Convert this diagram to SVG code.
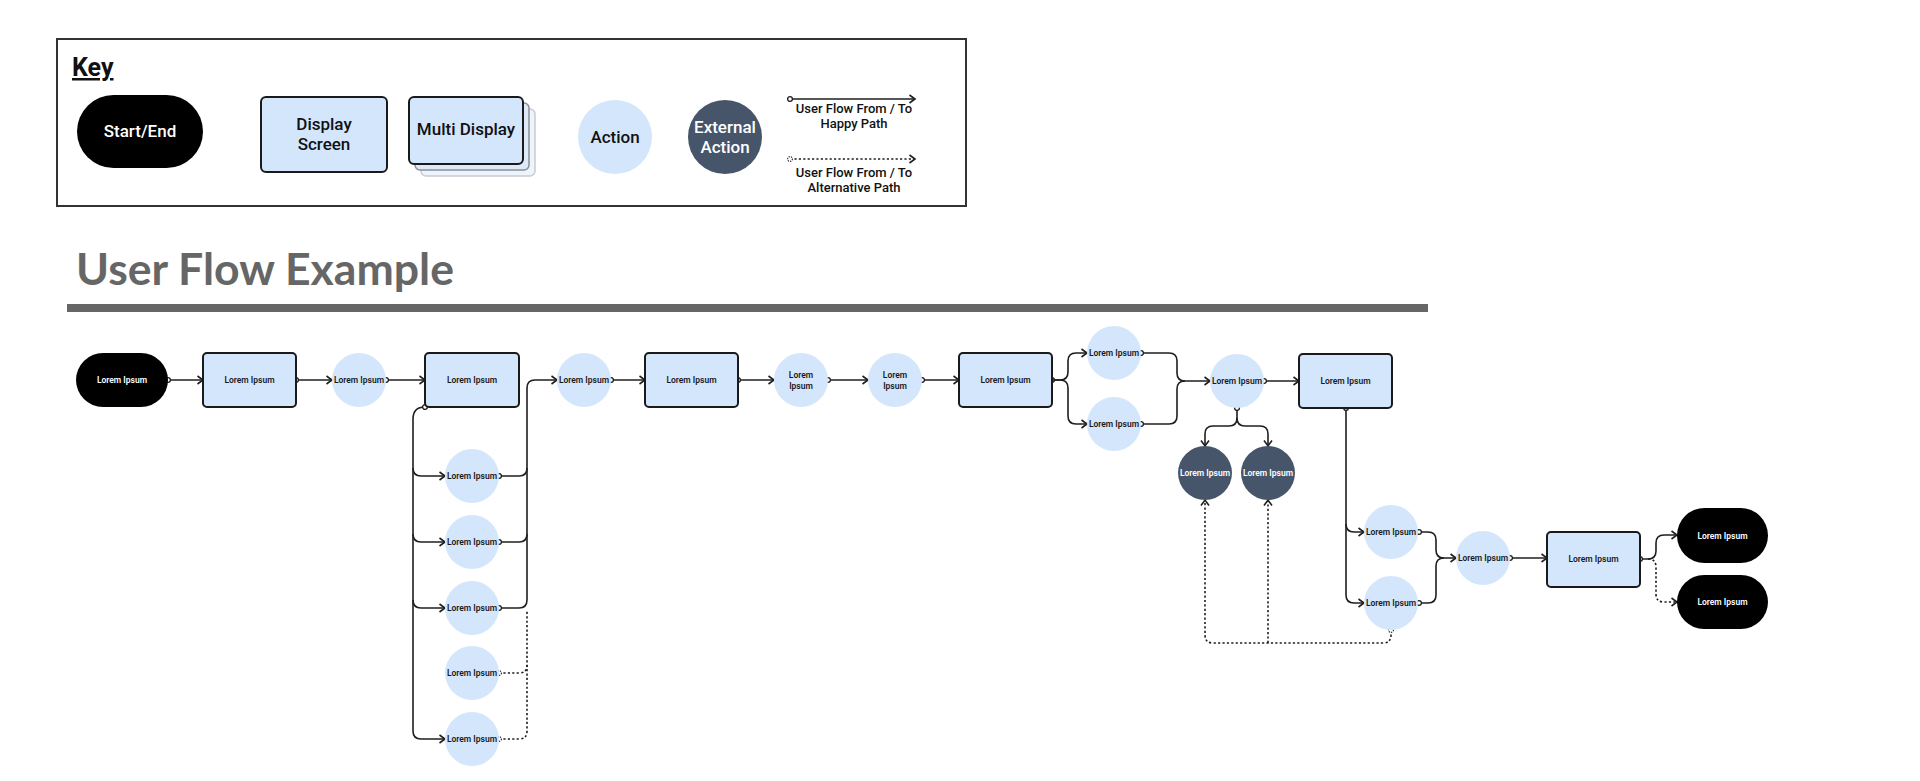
<svg xmlns="http://www.w3.org/2000/svg" width="1920" height="781" viewBox="0 0 1920 781">
<defs>
<style>
.bg{fill:#ffffff}
.keybox{fill:none;stroke:#333333;stroke-width:2}
.pill{fill:#000000}
.scr{fill:#d4e6fc;stroke:#1a1a1a;stroke-width:2}
.act{fill:#d4e6fc}
.ext{fill:#465569}
.lbl{font-family:Roboto,"Liberation Sans",sans-serif;font-size:8.5px;font-weight:600;fill:#1a1a1a;text-anchor:middle}
.lblw{font-family:Roboto,"Liberation Sans",sans-serif;font-size:8.5px;font-weight:600;fill:#ffffff;text-anchor:middle}
.kl{font-family:Roboto,"Liberation Sans",sans-serif;font-size:17px;font-weight:500;fill:#111111;text-anchor:middle}
.klw{font-family:Roboto,"Liberation Sans",sans-serif;font-size:17px;font-weight:500;fill:#ffffff;text-anchor:middle}
.ks{font-family:Roboto,"Liberation Sans",sans-serif;font-size:13px;font-weight:500;fill:#111111;text-anchor:middle}
.ln{fill:none;stroke:#1f1f1f;stroke-width:1.6}
.dt{fill:none;stroke:#1f1f1f;stroke-width:1.6;stroke-dasharray:2.2 2.2}
</style>
<marker id="arr" markerWidth="10" markerHeight="10" refX="7" refY="5" orient="auto" markerUnits="userSpaceOnUse">
<path d="M1.5,1 L7,5 L1.5,9" fill="none" stroke="#1f1f1f" stroke-width="1.6"/>
</marker>
<marker id="port" markerWidth="8" markerHeight="8" refX="4" refY="4" markerUnits="userSpaceOnUse">
<circle cx="4" cy="4" r="2.4" fill="#ffffff" stroke="#1f1f1f" stroke-width="1.3"/>
</marker>
<marker id="portd" markerWidth="8" markerHeight="8" refX="4" refY="4" markerUnits="userSpaceOnUse">
<circle cx="4" cy="4" r="2.4" fill="#ffffff" stroke="#1f1f1f" stroke-width="1.1" stroke-dasharray="1.2 1"/>
</marker>
</defs>
<rect class="bg" x="0" y="0" width="1920" height="781"/>

<g id="key">
<rect class="keybox" x="57" y="39" width="909" height="167"/>
<text x="72" y="76" font-family="Roboto,'Liberation Sans',sans-serif" font-size="25" font-weight="700" fill="#111" text-decoration="underline">Key</text>
<g id="key-start"><rect class="pill" x="77" y="95" width="126" height="73" rx="36.5"/><text class="klw" x="140" y="137">Start/End</text></g>
<g id="key-display"><rect class="scr" x="261" y="97" width="126" height="75" rx="5"/><text class="kl" x="324" y="130">Display</text><text class="kl" x="324" y="150">Screen</text></g>
<g id="key-multi">
<rect x="421" y="109" width="114" height="67" rx="5" fill="#eef4fc" stroke="#c8ccd2" stroke-width="1.5"/>
<rect x="415" y="103" width="114" height="67" rx="5" fill="#dfeaf8" stroke="#8a8f96" stroke-width="1.5"/>
<rect class="scr" x="409" y="97" width="114" height="67" rx="5"/>
<text class="kl" x="466" y="135">Multi Display</text></g>
<g id="key-action"><circle class="act" cx="615" cy="137" r="37"/><text class="kl" x="615" y="143">Action</text></g>
<g id="key-external"><circle class="ext" cx="725" cy="137" r="37"/><text class="klw" x="725" y="133">External</text><text class="klw" x="725" y="153">Action</text></g>
<g id="key-happy"><path class="ln" d="M790,99 H915" marker-start="url(#port)" marker-end="url(#arr)"/><text class="ks" x="854" y="113">User Flow From / To</text><text class="ks" x="854" y="128">Happy Path</text></g>
<g id="key-alt"><path class="dt" d="M790,159 H915" marker-start="url(#portd)" marker-end="url(#arr)"/><text class="ks" x="854" y="177">User Flow From / To</text><text class="ks" x="854" y="192">Alternative Path</text></g>
</g>

<g id="title">
<text x="76" y="285" font-family="Lato,'Open Sans',sans-serif" font-size="44" font-weight="700" fill="#666666" textLength="378" lengthAdjust="spacingAndGlyphs">User Flow Example</text>
<rect x="67" y="304" width="1361" height="8" fill="#666666"/>
</g>

<g id="connectors">
<path class="ln" d="M168,380 H203" marker-start="url(#port)" marker-end="url(#arr)"/>
<path class="ln" d="M296,380 H332" marker-start="url(#port)" marker-end="url(#arr)"/>
<path class="ln" d="M386,380 H425" marker-start="url(#port)" marker-end="url(#arr)"/>
<path class="ln" d="M425,407 Q413,407 413,419 V731 Q413,739 421,739 H445" marker-start="url(#port)" marker-end="url(#arr)"/>
<path class="ln" d="M413,468 Q413,476 421,476 H445" marker-end="url(#arr)"/>
<path class="ln" d="M413,534 Q413,542 421,542 H445" marker-end="url(#arr)"/>
<path class="ln" d="M413,600 Q413,608 421,608 H445" marker-end="url(#arr)"/>
<path class="ln" d="M499,608 H519 Q527,608 527,600 V388 Q527,380 535,380 H557" marker-start="url(#port)" marker-end="url(#arr)"/>
<path class="ln" d="M499,476 H519 Q527,476 527,468" marker-start="url(#port)"/>
<path class="ln" d="M499,542 H519 Q527,542 527,534" marker-start="url(#port)"/>
<path class="dt" d="M499,673 H519 Q527,673 527,665" marker-start="url(#portd)"/>
<path class="dt" d="M499,739 H519 Q527,739 527,731 V610" marker-start="url(#portd)"/>
<path class="ln" d="M611,380 H645" marker-start="url(#port)" marker-end="url(#arr)"/>
<path class="ln" d="M738,380 H774" marker-start="url(#port)" marker-end="url(#arr)"/>
<path class="ln" d="M828,380 H868" marker-start="url(#port)" marker-end="url(#arr)"/>
<path class="ln" d="M922,380 H959" marker-start="url(#port)" marker-end="url(#arr)"/>
<path class="ln" d="M1052,380 H1060 Q1068,380 1068,372 V361 Q1068,353 1076,353 H1087" marker-start="url(#port)" marker-end="url(#arr)"/>
<path class="ln" d="M1052,380 H1060 Q1068,380 1068,388 V416 Q1068,424 1076,424 H1087" marker-end="url(#arr)"/>
<path class="ln" d="M1141,353 H1169 Q1177,353 1177,361 V373 Q1177,381 1185,381 H1210" marker-start="url(#port)" marker-end="url(#arr)"/>
<path class="ln" d="M1141,424 H1169 Q1177,424 1177,416 V389 Q1177,381 1185,381" marker-start="url(#port)"/>
<path class="ln" d="M1264,381 H1299" marker-start="url(#port)" marker-end="url(#arr)"/>
<path class="ln" d="M1237,408 V418 Q1237,426 1229,426 H1213 Q1205,426 1205,434 V446" marker-start="url(#port)" marker-end="url(#arr)"/>
<path class="ln" d="M1237,418 Q1237,426 1245,426 H1260 Q1268,426 1268,434 V446" marker-end="url(#arr)"/>
<path class="ln" d="M1346,408 V595 Q1346,603 1354,603 H1364" marker-start="url(#port)" marker-end="url(#arr)"/>
<path class="ln" d="M1346,524 Q1346,532 1354,532 H1364" marker-end="url(#arr)"/>
<path class="ln" d="M1419,532 H1428 Q1436,532 1436,540 V550 Q1436,558 1444,558 H1456" marker-start="url(#port)" marker-end="url(#arr)"/>
<path class="ln" d="M1419,603 H1428 Q1436,603 1436,595 V566 Q1436,558 1444,558" marker-start="url(#port)"/>
<path class="ln" d="M1510,558 H1547" marker-start="url(#port)" marker-end="url(#arr)"/>
<path class="ln" d="M1640,559 H1648 Q1656,559 1656,551 V543 Q1656,535 1664,535 H1677" marker-start="url(#port)" marker-end="url(#arr)"/>
<path class="dt" d="M1648,559 Q1656,559 1656,567 V594 Q1656,602 1664,602 H1677" marker-end="url(#arr)"/>
<path class="dt" d="M1391,630 V635 Q1391,643 1383,643 H1213 Q1205,643 1205,635 V500" marker-start="url(#portd)" marker-end="url(#arr)"/>
<path class="dt" d="M1268,643 V500" marker-end="url(#arr)"/>
</g>

<g id="n-start"><rect class="pill" x="76" y="353" width="92" height="54" rx="27"/><text class="lblw" x="122" y="383">Lorem Ipsum</text></g>
<g id="n-screen1"><rect class="scr" x="203" y="353" width="93" height="54" rx="4"/><text class="lbl" x="249.5" y="383">Lorem Ipsum</text></g>
<g id="n-action1"><circle class="act" cx="359" cy="380" r="27"/><text class="lbl" x="359" y="383">Lorem Ipsum</text></g>
<g id="n-screen2"><rect class="scr" x="425" y="353" width="94" height="54" rx="4"/><text class="lbl" x="472" y="383">Lorem Ipsum</text></g>
<g id="n-col1"><circle class="act" cx="472" cy="476" r="27"/><text class="lbl" x="472" y="479">Lorem Ipsum</text></g>
<g id="n-col2"><circle class="act" cx="472" cy="542" r="27"/><text class="lbl" x="472" y="545">Lorem Ipsum</text></g>
<g id="n-col3"><circle class="act" cx="472" cy="608" r="27"/><text class="lbl" x="472" y="611">Lorem Ipsum</text></g>
<g id="n-col4"><circle class="act" cx="472" cy="673" r="27"/><text class="lbl" x="472" y="676">Lorem Ipsum</text></g>
<g id="n-col5"><circle class="act" cx="472" cy="739" r="27"/><text class="lbl" x="472" y="742">Lorem Ipsum</text></g>
<g id="n-action2"><circle class="act" cx="584" cy="380" r="27"/><text class="lbl" x="584" y="383">Lorem Ipsum</text></g>
<g id="n-screen3"><rect class="scr" x="645" y="353" width="93" height="54" rx="4"/><text class="lbl" x="691.5" y="383">Lorem Ipsum</text></g>
<g id="n-action3"><circle class="act" cx="801" cy="380" r="27"/><text class="lbl" x="801" y="378">Lorem</text><text class="lbl" x="801" y="389">Ipsum</text></g>
<g id="n-action4"><circle class="act" cx="895" cy="380" r="27"/><text class="lbl" x="895" y="378">Lorem</text><text class="lbl" x="895" y="389">Ipsum</text></g>
<g id="n-screen4"><rect class="scr" x="959" y="353" width="93" height="54" rx="4"/><text class="lbl" x="1005.5" y="383">Lorem Ipsum</text></g>
<g id="n-action5a"><circle class="act" cx="1114" cy="353" r="27"/><text class="lbl" x="1114" y="356">Lorem Ipsum</text></g>
<g id="n-action5b"><circle class="act" cx="1114" cy="424" r="27"/><text class="lbl" x="1114" y="427">Lorem Ipsum</text></g>
<g id="n-action6"><circle class="act" cx="1237" cy="381" r="27"/><text class="lbl" x="1237" y="384">Lorem Ipsum</text></g>
<g id="n-ext1"><circle class="ext" cx="1205" cy="473" r="27"/><text class="lblw" x="1205" y="476">Lorem Ipsum</text></g>
<g id="n-ext2"><circle class="ext" cx="1268" cy="473" r="27"/><text class="lblw" x="1268" y="476">Lorem Ipsum</text></g>
<g id="n-screen5"><rect class="scr" x="1299" y="354" width="93" height="54" rx="4"/><text class="lbl" x="1345.5" y="384">Lorem Ipsum</text></g>
<g id="n-action8a"><circle class="act" cx="1391" cy="532" r="27"/><text class="lbl" x="1391" y="535">Lorem Ipsum</text></g>
<g id="n-action8b"><circle class="act" cx="1391" cy="603" r="27"/><text class="lbl" x="1391" y="606">Lorem Ipsum</text></g>
<g id="n-action7"><circle class="act" cx="1483" cy="558" r="27"/><text class="lbl" x="1483" y="561">Lorem Ipsum</text></g>
<g id="n-screen6"><rect class="scr" x="1547" y="532" width="93" height="55" rx="4"/><text class="lbl" x="1593.5" y="562">Lorem Ipsum</text></g>
<g id="n-end1"><rect class="pill" x="1677" y="508" width="91" height="55" rx="27.5"/><text class="lblw" x="1722.5" y="538.5">Lorem Ipsum</text></g>
<g id="n-end2"><rect class="pill" x="1677" y="575" width="91" height="54" rx="27"/><text class="lblw" x="1722.5" y="605">Lorem Ipsum</text></g>
</svg>
